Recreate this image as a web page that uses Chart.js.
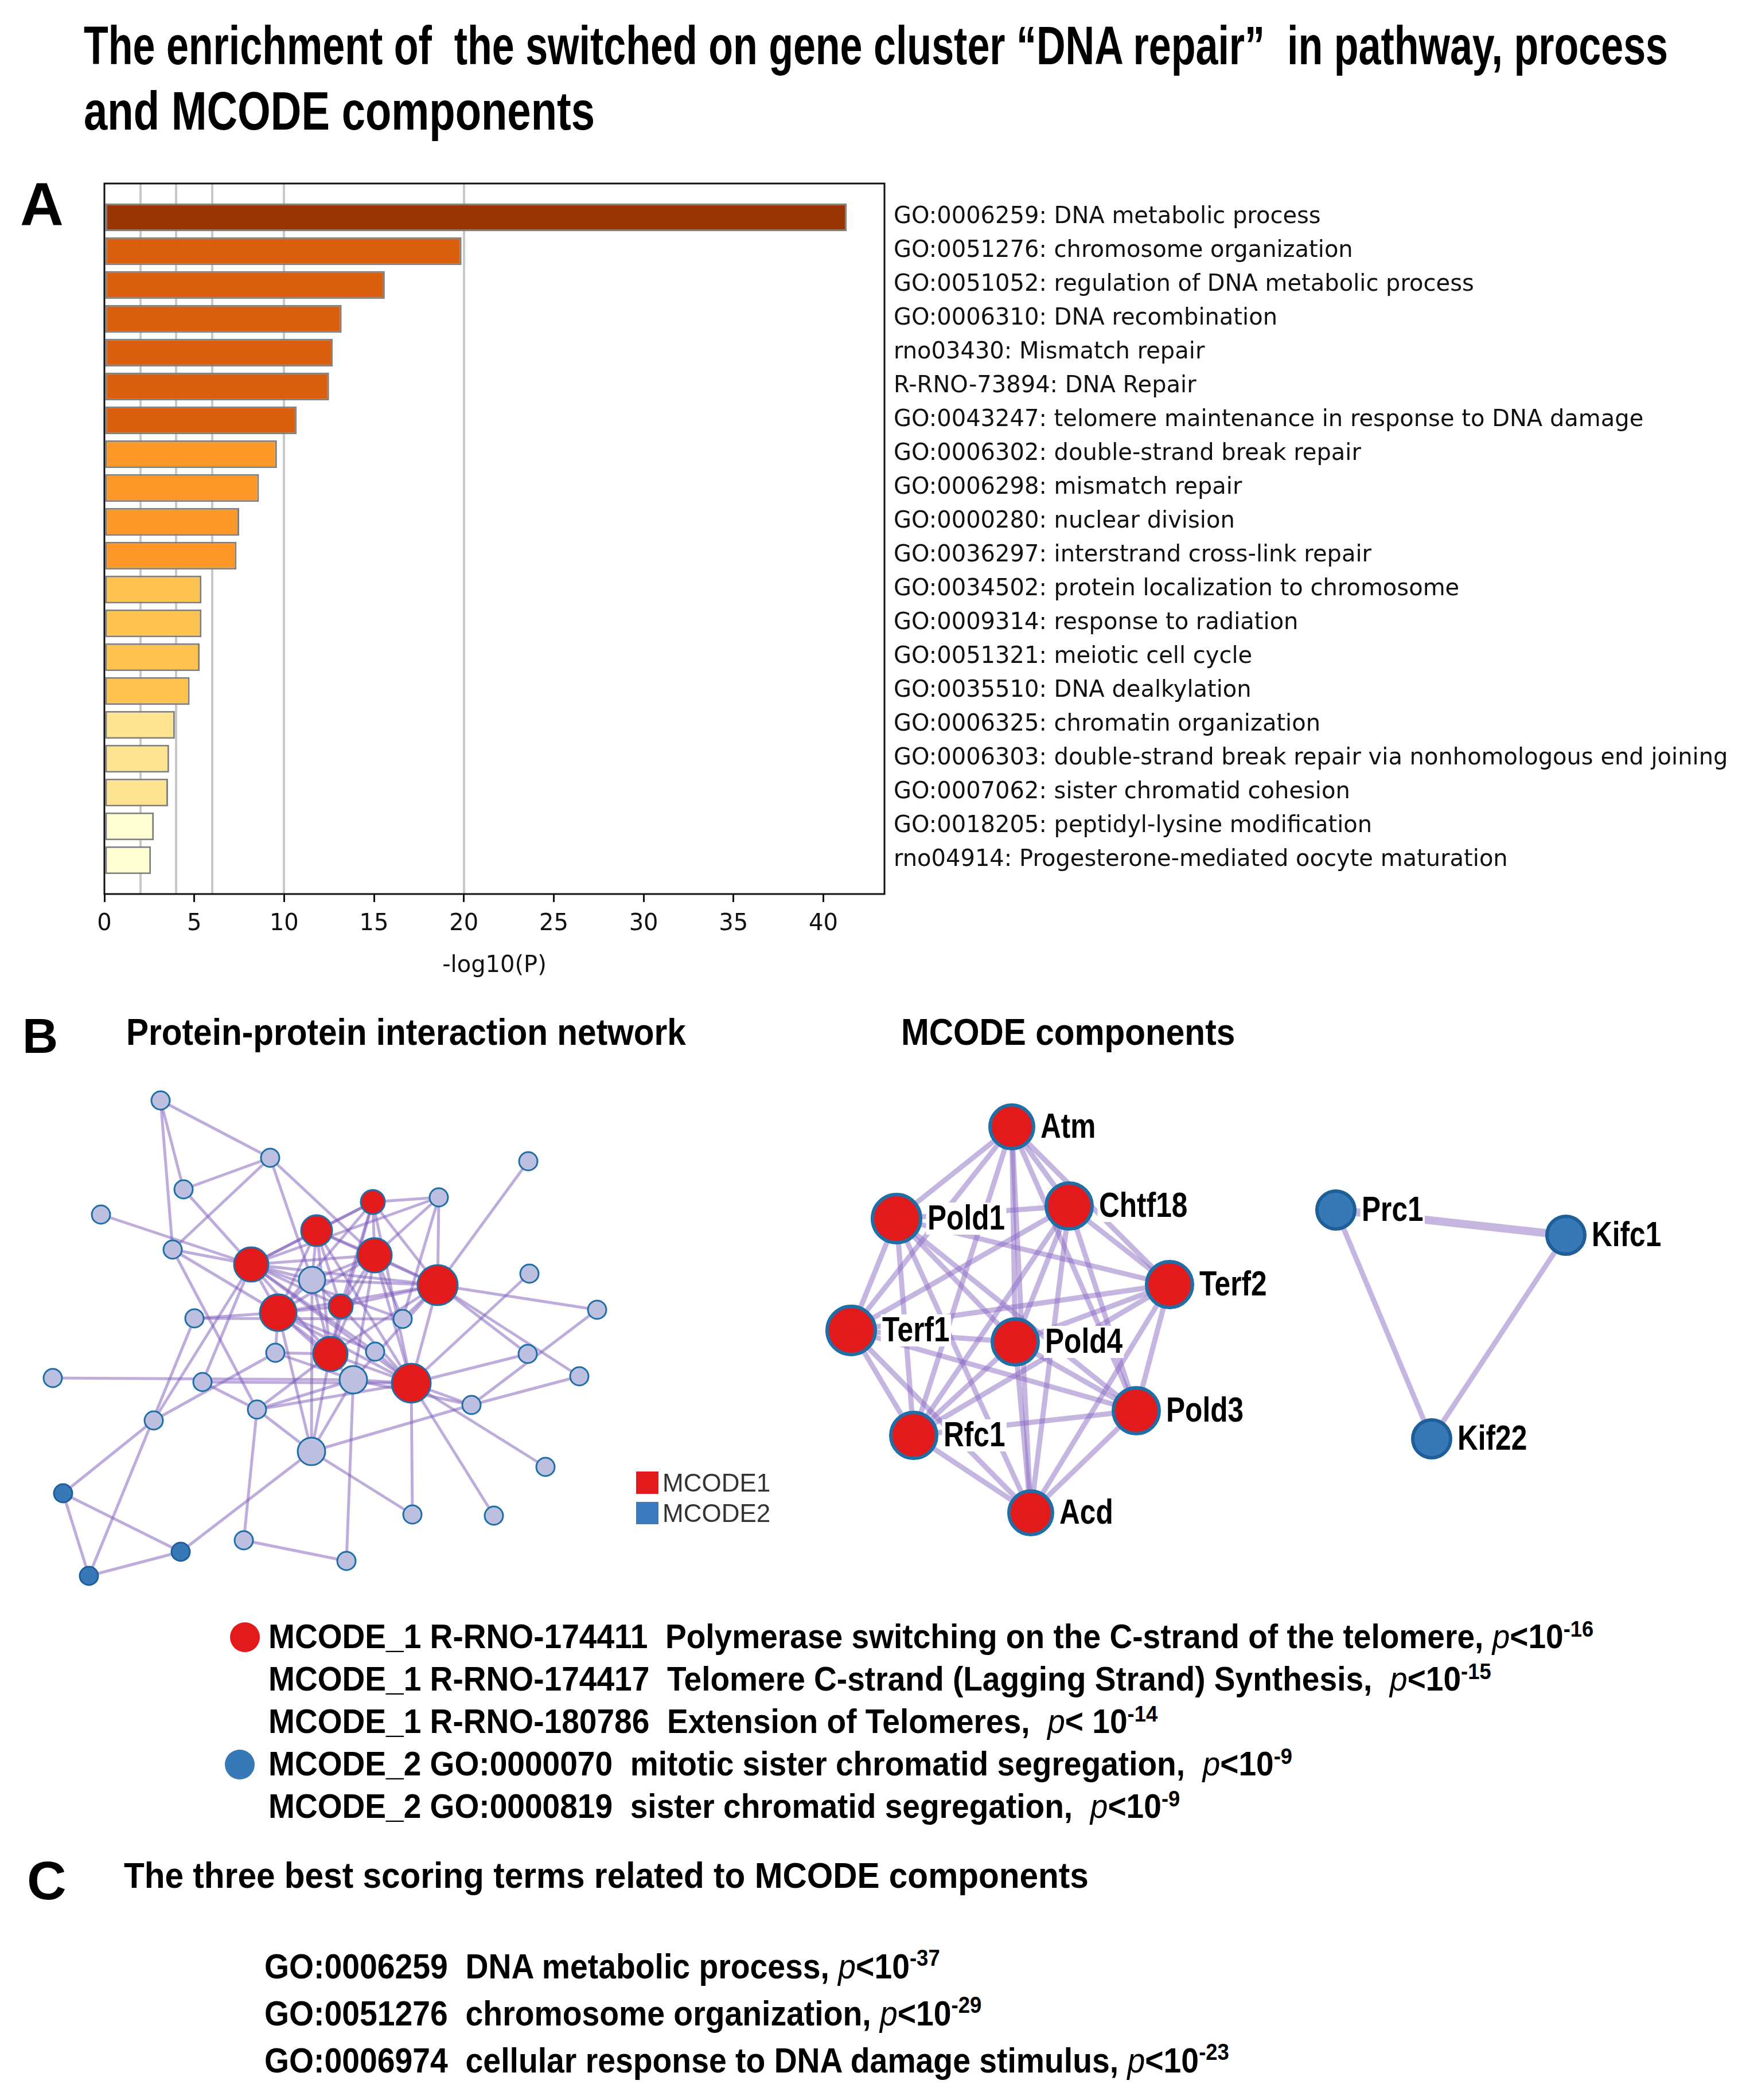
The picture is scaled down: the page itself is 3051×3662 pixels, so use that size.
<!DOCTYPE html>
<html>
<head>
<meta charset="utf-8">
<script src="https://cdn.jsdelivr.net/npm/chart.js@4.4.1/dist/chart.umd.min.js"></script>
<style>
  html, body { margin: 0; padding: 0; background: #fff; }
  #page { position: relative; width: 3051px; height: 3662px; overflow: hidden; background: #fff; }
  .t { position: absolute; white-space: pre; line-height: 1; font-family: "Liberation Sans", Arial, sans-serif;
       font-weight: 700; color: #000; transform-origin: 0 0; }
  .t sup { font-size: 0.66em; position: relative; top: -0.52em; vertical-align: baseline; }
  .t i { font-weight: 400; }
  canvas { position: absolute; }
  .dot { position: absolute; border-radius: 50%; }
</style>
</head>
<body>
<div id="page">
  <canvas id="barChart" width="3051" height="1460" style="left:0;top:280px"></canvas>
  <canvas id="ppiChart" width="1150" height="940" style="left:0;top:1860px"></canvas>
  <canvas id="mcodeChart" width="1500" height="860" style="left:1400px;top:1860px"></canvas>
</div>
<script>
// ---- panel A: enrichment bars ----
const termIds = ["GO:0006259", "GO:0051276", "GO:0051052", "GO:0006310", "rno03430", "R-RNO-73894",
  "GO:0043247", "GO:0006302", "GO:0006298", "GO:0000280", "GO:0036297", "GO:0034502", "GO:0009314",
  "GO:0051321", "GO:0035510", "GO:0006325", "GO:0006303", "GO:0007062", "GO:0018205", "rno04914"];
const termNames = ["DNA metabolic process", "chromosome organization", "regulation of DNA metabolic process",
  "DNA recombination", "Mismatch repair", "DNA Repair", "telomere maintenance in response to DNA damage",
  "double-strand break repair", "mismatch repair", "nuclear division", "interstrand cross-link repair",
  "protein localization to chromosome", "response to radiation", "meiotic cell cycle", "DNA dealkylation",
  "chromatin organization", "double-strand break repair via nonhomologous end joining",
  "sister chromatid cohesion", "peptidyl-lysine modification", "Progesterone-mediated oocyte maturation"];
const negLogP = [41.3, 19.87, 15.6, 13.2, 12.7, 12.5, 10.7, 9.6, 8.6, 7.5, 7.35,
  5.4, 5.4, 5.3, 4.74, 3.92, 3.6, 3.54, 2.75, 2.59];
const barColors = ["#993404", "#d95f0e", "#d95f0e", "#d95f0e", "#d95f0e", "#d95f0e", "#d95f0e",
  "#fe9929", "#fe9929", "#fe9929", "#fe9929", "#fec44f", "#fec44f", "#fec44f", "#fec44f",
  "#fee391", "#fee391", "#fee391", "#ffffd4", "#ffffd4"];
const xTickStep = 5;
const xMax = 43.4;
const refLines = [2, 4, 6, 10, 20];

// ---- panel B: PPI network (layout coordinates) ----
const ppiX = [280, 471, 320, 176, 921, 301, 650, 765, 552, 438, 653, 544, 763, 923, 594, 485, 339, 1041, 702, 480,
  576, 654, 616, 717, 92, 353, 920, 1010, 448, 822, 268, 543, 951, 110, 719, 861, 315, 425, 604, 155];
const ppiY = [59, 159, 214, 258, 165, 319, 236, 228, 286, 345, 329, 372, 381, 361, 418, 429, 439, 424, 440, 499,
  501, 497, 546, 552, 543, 550, 501, 540, 598, 590, 617, 671, 698, 744, 781, 783, 846, 826, 862, 888];
const ppiGroup = ["n", "n", "n", "n", "n", "n", "M1", "n", "M1", "M1", "M1", "n", "M1", "n", "M1", "M1", "n", "n", "n", "n",
  "M1", "n", "n", "M1", "n", "n", "n", "n", "n", "n", "n", "n", "n", "M2", "n", "n", "M2", "n", "n", "M2"];
const ppiSize = [16, 16, 16, 16, 16, 16, 21, 16, 27, 30, 30, 23, 35, 16, 21, 32, 16, 16, 16, 16,
  30, 16, 24, 34, 16, 16, 16, 16, 16, 16, 16, 24, 16, 16, 16, 16, 16, 16, 16, 16];
const ppiEdges = [
  [6, 8], [6, 9], [6, 10], [6, 12], [6, 14], [6, 15], [6, 20], [6, 23], [8, 9], [8, 10], [8, 12], [8, 14],
  [8, 15], [8, 20], [8, 23], [9, 10], [9, 12], [9, 14], [9, 15], [9, 20], [9, 23], [10, 12], [10, 14], [10, 15],
  [10, 20], [10, 23], [12, 14], [12, 15], [12, 20], [12, 23], [14, 15], [14, 20], [14, 23], [15, 20], [15, 23], [20, 23],
  [0, 1], [0, 2], [0, 5], [1, 2], [1, 5], [1, 10], [1, 11], [2, 9], [3, 9], [5, 9], [5, 15], [5, 28], [4, 12],
  [7, 6], [7, 10], [7, 12], [7, 9], [7, 18], [13, 23], [17, 12], [17, 29], [26, 12], [26, 23], [27, 29], [12, 27],
  [32, 23], [34, 23], [35, 23], [38, 22], [37, 38], [37, 28], [36, 31], [33, 36], [36, 39], [33, 39], [33, 30],
  [39, 16], [30, 9], [30, 19], [24, 22], [16, 15], [16, 18], [25, 9], [25, 23], [25, 28], [31, 11], [31, 20],
  [31, 22], [31, 28], [31, 29], [31, 34], [31, 15], [28, 22], [28, 23], [28, 20], [29, 23], [29, 22], [11, 9],
  [11, 8], [11, 10], [11, 12], [11, 15], [11, 20], [11, 14], [22, 12], [22, 23], [22, 10], [22, 15], [18, 9],
  [18, 12], [18, 10], [21, 23], [21, 15], [21, 9], [19, 15], [19, 22], [19, 20]];

// ---- panel B: MCODE components ----
const mcodeNames = ["Atm", "Pold1", "Chtf18", "Terf2", "Terf1", "Pold4", "Pold3", "Rfc1", "Acd", "Prc1", "Kifc1", "Kif22"];
const mcodeX = [364, 163, 464, 639, 84, 370, 581, 193, 397, 929, 1330, 1096];
const mcodeY = [105, 265, 243, 380, 460, 480, 600, 643, 778, 250, 294, 649];
const mcodeGroup = ["M1", "M1", "M1", "M1", "M1", "M1", "M1", "M1", "M1", "M2", "M2", "M2"];
const mcodeSize = [38, 42, 40, 40, 42, 40, 40, 40, 38, 33, 33, 33];
const mcodeEdges = [
  [0, 1], [0, 2], [0, 3], [0, 4], [0, 5], [0, 6], [0, 7], [0, 8], [1, 2], [1, 3], [1, 4], [1, 5], [1, 6], [1, 7], [1, 8],
  [2, 3], [2, 4], [2, 5], [2, 6], [2, 7], [2, 8], [3, 4], [3, 5], [3, 6], [3, 7], [3, 8], [4, 5], [4, 6], [4, 7], [4, 8],
  [5, 6], [5, 7], [5, 8], [6, 7], [6, 8], [7, 8], [9, 10], [9, 11], [10, 11]];
const mcodeEdgeWidth = [9, 9, 9, 9, 9, 9, 9, 9, 9, 9, 9, 9, 9, 9, 9, 9, 9, 9, 9, 9, 9, 9, 9, 9, 9, 9, 9, 9, 9, 9,
  9, 9, 9, 9, 9, 9, 14, 9, 9];

// ---- enrichment text ----
const mcodeTerms = [
  { mod: "MCODE_1", id: "R-RNO-174411", name: "Polymerase switching on the C-strand of the telomere", sep: ", ", lt: "<10", exp: "-16" },
  { mod: "MCODE_1", id: "R-RNO-174417", name: "Telomere C-strand (Lagging Strand) Synthesis", sep: ",  ", lt: "<10", exp: "-15" },
  { mod: "MCODE_1", id: "R-RNO-180786", name: "Extension of Telomeres", sep: ",  ", lt: "< 10", exp: "-14" },
  { mod: "MCODE_2", id: "GO:0000070", name: "mitotic sister chromatid segregation", sep: ",  ", lt: "<10", exp: "-9" },
  { mod: "MCODE_2", id: "GO:0000819", name: "sister chromatid segregation", sep: ",  ", lt: "<10", exp: "-9" }];
const bestTerms = [
  { id: "GO:0006259", name: "DNA metabolic process", exp: "-37" },
  { id: "GO:0051276", name: "chromosome organization", exp: "-29" },
  { id: "GO:0006974", name: "cellular response to DNA damage stimulus", exp: "-23" }];

const RED = "#e31a1c", BLUE = "#3778b6", LAV = "#bdbfe0", RIM = "#1f6fa6";
const page = document.getElementById("page");

function esc(s) { return s.replace(/&/g, "&amp;").replace(/</g, "&lt;"); }
function place(html, left, baseline, size, weight) {
  const d = document.createElement("div");
  d.className = "t";
  d.innerHTML = html;
  d.style.left = left + "px";
  d.style.top = (baseline - 0.8465 * size) + "px";
  d.style.fontSize = size + "px";
  if (weight) d.style.fontWeight = weight;
  page.appendChild(d);
  return d;
}
function squeeze(els, ref, width) {
  const k = width / ref.offsetWidth;
  els.forEach(e => { e.style.transform = "scaleX(" + k + ")"; });
}
function dot(cx, cy, r, color) {
  const d = document.createElement("div");
  d.className = "dot";
  Object.assign(d.style, { left: (cx - r) + "px", top: (cy - r) + "px", width: 2 * r + "px", height: 2 * r + "px", background: color });
  page.appendChild(d);
}
function square(x, y, s, color) {
  const d = document.createElement("div");
  Object.assign(d.style, { position: "absolute", left: x + "px", top: y + "px", width: s + "px", height: s + "px", background: color });
  page.appendChild(d);
}

// ---- texts ----
const title1 = place(esc("The enrichment of  the switched on gene cluster \u201cDNA repair\u201d  in pathway, process"), 146, 112, 95);
const title2 = place("and MCODE components", 146, 226, 95);
place("A", 35, 393, 105);
place("B", 39, 1836, 86);
const hB1 = place("Protein-protein interaction network", 220, 1822, 64);
const hB2 = place("MCODE components", 1571, 1822, 64);

const mLines = mcodeTerms.map((t, i) =>
  place(esc(t.mod + " " + t.id + "  " + t.name + t.sep) + "<i>p</i>" + esc(t.lt) + "<sup>" + t.exp + "</sup>",
    468, 2875 + i * 74, 60));
dot(427, 2855, 26, RED);
dot(418, 3077, 26, BLUE);

place("C", 47, 3312, 95);
const hC = place("The three best scoring terms related to MCODE components", 216, 3292, 63);
const cLines = bestTerms.map((t, i) =>
  place(esc(t.id + "  " + t.name + ", ") + "<i>p</i>&lt;10<sup>" + t.exp + "</sup>", 461, 3450 + i * 82, 62));

// legend of the PPI network
square(1109, 2566, 39, RED);
square(1109, 2619, 39, "#3b7bbd");
place("MCODE1", 1155, 2601, 44, 400).style.color = "#333";
place("MCODE2", 1155, 2654, 44, 400).style.color = "#333";

function fitAll() {
  squeeze([title1], title1, 2762);
  squeeze([title2], title2, 891);
  squeeze([hB1, hB2], hB1, 976);
  squeeze(mLines, mLines[0], 2310);
  squeeze([hC], hC, 1682);
  squeeze(cLines, cLines[2], 1682);
}
if (document.fonts && document.fonts.ready) document.fonts.ready.then(fitAll);
fitAll();

// ---- panel A chart ----
const frame = {
  id: "frame",
  afterDatasetsDraw(chart) {
    const { ctx, chartArea: a } = chart;
    ctx.save();
    ctx.strokeStyle = "#111";
    ctx.lineWidth = 3;
    ctx.strokeRect(a.left, a.top, a.right - a.left, a.bottom - a.top);
    ctx.restore();
  }
};
const tickFont = { family: "DejaVu Sans", size: 40 };
new Chart(document.getElementById("barChart"), {
  type: "bar",
  data: {
    datasets: [{
      data: negLogP.map((v, i) => ({ x: v, y: i })),
      backgroundColor: barColors,
      borderColor: "#7f7f7f",
      borderWidth: 3,
      borderSkipped: false,
      barPercentage: 0.82,
      categoryPercentage: 1.0,
      xAxisID: "x",
      yAxisID: "y"
    }]
  },
  options: {
    indexAxis: "y",
    responsive: false,
    animation: false,
    events: [],
    layout: { autoPadding: false, padding: { left: 182, top: 40, right: 0, bottom: 0 } },
    plugins: { legend: { display: false }, tooltip: { enabled: false } },
    scales: {
      x: {
        type: "linear", position: "bottom", min: 0, max: xMax,
        ticks: { stepSize: xTickStep, includeBounds: false, font: tickFont, color: "#111", padding: 15 },
        grid: { drawOnChartArea: false, drawTicks: true, tickLength: 14, color: "#111", lineWidth: 3 },
        border: { display: false },
        title: { display: true, text: "-log10(P)", font: tickFont, color: "#111", padding: { top: 10, bottom: 31 } },
        afterFit: s => { s.height = 181; }
      },
      xg: {
        type: "linear", position: "top", min: 0, max: xMax,
        ticks: { display: false },
        grid: { color: "#c8c8c8", lineWidth: 4, drawTicks: false },
        border: { display: false },
        afterBuildTicks: s => { s.ticks = refLines.map(v => ({ value: v })); },
        afterFit: s => { s.height = 0; }
      },
      y: {
        type: "linear", position: "right", min: -1, max: 20, reverse: true, offset: false,
        afterBuildTicks: s => { s.ticks = termIds.map((_, i) => ({ value: i })); },
        ticks: { autoSkip: false, font: tickFont, color: "#111", padding: 16,
          callback: v => termIds[v] + ": " + termNames[v] },
        grid: { display: false, drawTicks: false, offset: false },
        border: { display: false },
        afterFit: s => { s.width = 3051 - 1542; }
      }
    }
  },
  plugins: [frame]
});

// ---- network charts ----
function nodeColor(g) { return g === "M1" ? RED : g === "M2" ? BLUE : LAV; }
function networkChart(canvas, xs, ys, groups, sizes, edges, edgeWidths, rimWidth, edgeColor, xMaxN, yMaxN, extraPlugins) {
  const nodes = {
    data: xs.map((x, i) => ({ x: x, y: ys[i] })),
    pointRadius: sizes,
    pointBackgroundColor: groups.map(nodeColor),
    pointBorderColor: groups.map(g => g === "M2" ? "#1f5f99" : RIM),
    pointBorderWidth: rimWidth,
    showLine: false,
    order: 0
  };
  const edgeSets = edges.map((e, k) => ({
    data: [{ x: xs[e[0]], y: ys[e[0]] }, { x: xs[e[1]], y: ys[e[1]] }],
    showLine: true,
    pointRadius: 0,
    borderColor: edgeColor,
    borderWidth: edgeWidths ? edgeWidths[k] : 5,
    order: 1
  }));
  return new Chart(canvas, {
    type: "scatter",
    data: { datasets: [nodes].concat(edgeSets) },
    options: {
      responsive: false,
      animation: false,
      events: [],
      layout: { autoPadding: false, padding: 0 },
      plugins: { legend: { display: false }, tooltip: { enabled: false } },
      scales: {
        x: { type: "linear", min: 0, max: xMaxN, display: false },
        y: { type: "linear", min: 0, max: yMaxN, reverse: true, display: false }
      }
    },
    plugins: extraPlugins || []
  });
}

networkChart(document.getElementById("ppiChart"), ppiX, ppiY, ppiGroup, ppiSize, ppiEdges, null, 3,
  "rgba(125, 92, 185, 0.5)", 1150, 940);

const nodeLabels = {
  id: "nodeLabels",
  afterDatasetsDraw(chart) {
    const meta = chart.getDatasetMeta(0);
    const ctx = chart.ctx;
    ctx.save();
    ctx.font = "bold 62px 'Liberation Sans', Arial, sans-serif";
    ctx.textBaseline = "middle";
    meta.data.forEach((pt, i) => {
      const x = pt.x + mcodeSize[i] + 12;
      ctx.save();
      ctx.translate(x, pt.y);
      ctx.scale(0.8, 1);
      const w = ctx.measureText(mcodeNames[i]).width;
      ctx.fillStyle = "#fff";
      ctx.fillRect(-3, -28, w + 6, 56);
      ctx.fillStyle = "#000";
      ctx.fillText(mcodeNames[i], 0, 2);
      ctx.restore();
    });
    ctx.restore();
  }
};
networkChart(document.getElementById("mcodeChart"), mcodeX, mcodeY, mcodeGroup, mcodeSize, mcodeEdges, mcodeEdgeWidth, 6,
  "rgba(140, 108, 196, 0.5)", 1500, 860, [nodeLabels]);
</script>
</body>
</html>
